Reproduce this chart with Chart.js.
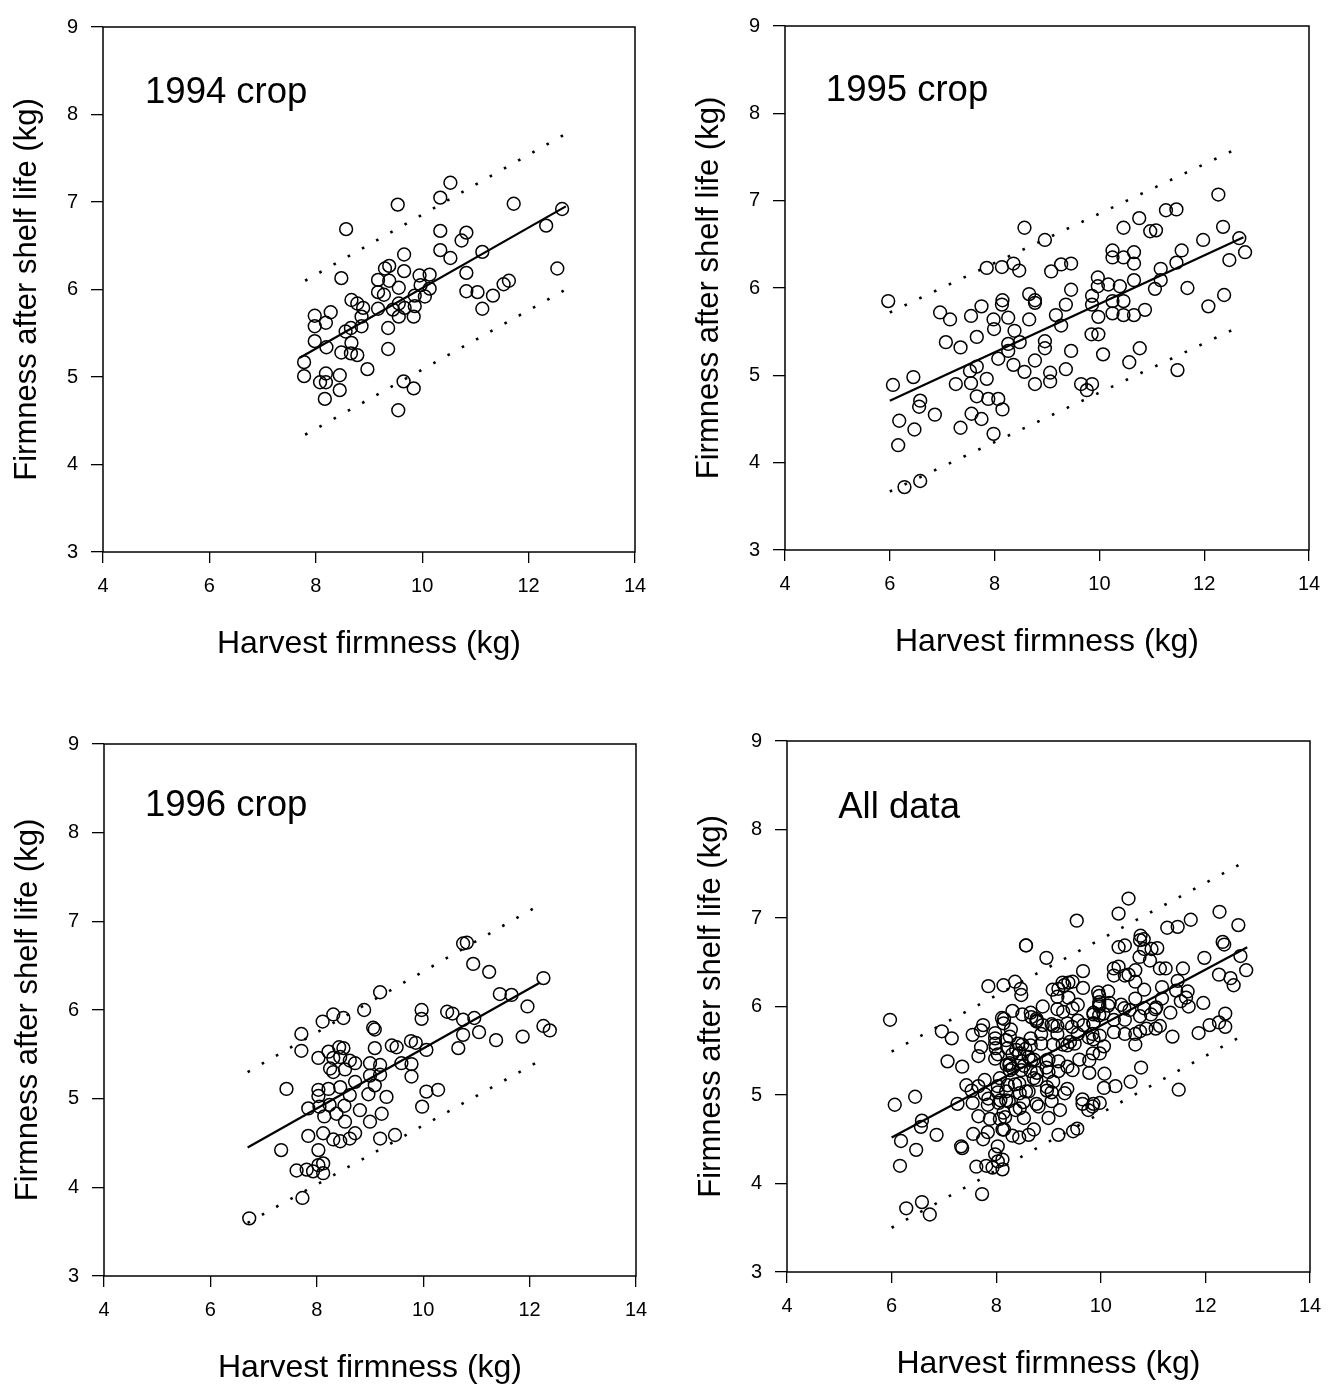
<!DOCTYPE html>
<html><head><meta charset="utf-8">
<script src="https://cdn.jsdelivr.net/npm/chart.js@4/dist/chart.umd.min.js"></script>
<style>
html,body{margin:0;padding:0;background:#fff;overflow:hidden;width:1339px;height:1387px;}
.panel{position:absolute;}
canvas{display:block;}
</style></head><body>
<div class="panel" id="p1"><canvas id="c1"></canvas></div>
<div class="panel" id="p2"><canvas id="c2"></canvas></div>
<div class="panel" id="p3"><canvas id="c3"></canvas></div>
<div class="panel" id="p4"><canvas id="c4"></canvas></div>
<script>
// ---------- DATA ----------
const xTickValues = [4, 6, 8, 10, 12, 14];
const yTickValues = [3, 4, 5, 6, 7, 8, 9];
const panelTitles = ['1994 crop', '1995 crop', '1996 crop', 'All data'];
const xAxisTitle = 'Harvest firmness (kg)';
const yAxisTitle = 'Firmness after shelf life (kg)';

// [harvest firmness, firmness after shelf life]
const crop1994 = [[9.54,6.97],[8.57,6.69],[9.66,6.40],[9.30,6.24],[9.38,6.27],[9.66,6.21],[8.48,6.13],[9.17,6.11],[9.38,6.10],[9.95,6.16],[10.14,6.17],[9.56,6.02],[9.97,6.05],[10.14,6.01],[9.17,5.97],[9.28,5.94],[9.86,5.93],[10.05,5.92],[8.67,5.88],[8.78,5.84],[9.56,5.84],[9.86,5.81],[9.17,5.78],[9.45,5.77],[9.67,5.79],[8.28,5.74],[7.98,5.70],[8.89,5.79],[8.86,5.69],[9.56,5.69],[9.84,5.69],[8.19,5.62],[7.98,5.58],[8.66,5.56],[8.86,5.58],[8.56,5.52],[9.36,5.56],[7.98,5.41],[8.20,5.34],[8.67,5.39],[8.48,5.28],[8.66,5.27],[8.78,5.25],[9.36,5.32],[7.78,5.17],[7.78,5.01],[8.97,5.09],[8.19,5.04],[8.45,5.02],[8.08,4.94],[8.19,4.94],[9.65,4.95],[9.84,4.87],[8.45,4.85],[8.17,4.75],[9.55,4.62],[10.53,7.22],[10.34,7.05],[11.72,6.98],[10.34,6.67],[10.83,6.65],[10.74,6.56],[12.63,6.92],[12.33,6.73],[10.34,6.45],[10.53,6.36],[11.13,6.43],[10.83,6.19],[12.54,6.24],[10.83,5.98],[11.04,5.97],[11.33,5.93],[11.53,6.06],[11.63,6.10],[11.13,5.78]];

const crop1995 = [[5.97,5.85],[7.85,6.23],[8.14,6.24],[6.96,5.72],[7.15,5.64],[7.75,5.79],[7.55,5.68],[8.14,5.81],[7.98,5.64],[7.99,5.53],[7.07,5.38],[7.35,5.32],[7.66,5.44],[8.07,5.19],[6.45,4.98],[6.06,4.89],[7.66,5.10],[7.53,5.05],[7.85,4.96],[7.26,4.90],[7.55,4.91],[7.66,4.76],[7.88,4.73],[8.07,4.73],[6.58,4.71],[6.56,4.64],[6.86,4.55],[7.56,4.56],[7.75,4.50],[6.18,4.48],[6.47,4.38],[7.35,4.40],[7.98,4.33],[6.16,4.20],[6.58,3.79],[6.28,3.72],[8.15,4.61],[8.57,6.69],[8.96,6.55],[10.46,6.69],[8.36,6.28],[8.47,6.20],[9.08,6.19],[9.27,6.27],[9.46,6.28],[10.25,6.43],[10.46,6.35],[10.25,6.35],[9.97,6.12],[9.97,6.02],[10.17,6.04],[10.39,6.02],[9.46,5.98],[8.66,5.93],[8.77,5.86],[8.77,5.83],[8.15,5.86],[9.36,5.81],[9.86,5.91],[9.86,5.81],[10.25,5.85],[10.46,5.85],[10.25,5.71],[10.46,5.69],[9.98,5.67],[9.17,5.69],[8.26,5.66],[8.66,5.64],[9.27,5.57],[8.38,5.51],[8.26,5.36],[8.48,5.38],[8.26,5.28],[8.96,5.39],[8.96,5.31],[9.85,5.47],[9.98,5.47],[9.46,5.28],[10.07,5.24],[8.36,5.12],[8.57,5.04],[8.77,5.17],[9.36,5.07],[8.77,4.90],[9.06,5.03],[9.06,4.93],[9.65,4.90],[9.86,4.90],[9.76,4.83],[12.27,7.07],[11.27,6.89],[11.47,6.90],[10.76,6.80],[10.97,6.65],[11.08,6.66],[12.36,6.70],[12.67,6.57],[12.78,6.41],[11.98,6.55],[11.57,6.43],[10.66,6.41],[12.48,6.32],[10.66,6.28],[11.47,6.29],[11.17,6.22],[11.17,6.09],[10.66,6.09],[11.06,5.99],[11.68,6.00],[12.38,5.92],[12.08,5.79],[10.66,5.69],[10.87,5.75],[10.77,5.31],[10.57,5.15],[11.49,5.06]];

const crop1996 = [[9.19,6.20],[8.89,6.00],[8.31,5.95],[8.50,5.91],[8.11,5.87],[9.06,5.80],[9.09,5.78],[7.71,5.73],[7.71,5.54],[9.41,5.60],[9.09,5.57],[8.42,5.58],[8.50,5.57],[8.22,5.53],[8.03,5.46],[8.31,5.46],[8.44,5.47],[8.62,5.43],[8.72,5.40],[9.00,5.40],[9.19,5.38],[8.25,5.34],[8.31,5.30],[8.53,5.33],[9.00,5.26],[9.19,5.27],[8.72,5.19],[9.09,5.15],[7.43,5.11],[8.03,5.10],[8.22,5.11],[8.44,5.13],[8.62,5.04],[8.97,5.05],[8.03,5.03],[9.31,5.02],[7.84,4.89],[8.05,4.91],[8.24,4.93],[8.52,4.92],[8.81,4.87],[8.14,4.80],[8.37,4.83],[8.53,4.74],[9.00,4.74],[9.22,4.83],[7.84,4.58],[8.12,4.61],[8.31,4.54],[8.44,4.52],[8.62,4.55],[8.72,4.61],[9.19,4.55],[9.47,4.59],[7.33,4.42],[8.03,4.42],[8.12,4.27],[8.03,4.25],[7.62,4.19],[7.81,4.20],[7.93,4.18],[8.12,4.16],[7.73,3.88],[6.73,3.65],[10.82,6.76],[10.75,6.75],[10.94,6.52],[11.24,6.43],[12.26,6.36],[11.44,6.18],[11.66,6.17],[11.96,6.04],[9.97,6.00],[9.97,5.90],[10.45,5.98],[10.55,5.96],[10.75,5.89],[10.96,5.91],[10.75,5.72],[11.05,5.75],[11.37,5.66],[11.87,5.70],[12.26,5.82],[12.38,5.77],[10.66,5.57],[9.77,5.65],[9.86,5.63],[9.50,5.58],[10.06,5.55],[9.59,5.40],[9.78,5.39],[9.78,5.25],[10.06,5.08],[10.28,5.10],[9.98,4.91]];

const cropAll = [...crop1994, ...crop1995, ...crop1996];

// regression line and prediction bounds (end points)
const fitX1994 = [7.7, 12.7],  fitY1994 = [5.22, 6.95];
const bandX1994 = [7.8, 12.7], upperY1994 = [6.10, 7.78], lowerY1994 = [4.34, 6.00];
const fitX1995 = [6.0, 12.75], fitY1995 = [4.71, 6.58];
const bandX1995 = [6.0, 12.75], upperY1995 = [5.72, 7.63], lowerY1995 = [3.67, 5.58];
const fitX1996 = [6.7, 12.2],  fitY1996 = [4.45, 6.31];
const bandX1996 = [6.7, 12.2], upperY1996 = [5.30, 7.19], lowerY1996 = [3.60, 5.43];
const fitXAll = [6.0, 12.8],   fitYAll = [4.52, 6.67];
const bandXAll = [6.0, 12.8],  upperYAll = [5.49, 7.65], lowerYAll = [3.50, 5.70];

// ---------- LAYOUT ----------
const FONT = "'Liberation Sans', Arial, Helvetica, sans-serif";
const Y_W = 103, PAD_T = 22, PAD_R = 28, X_H = 110;
const panels = [
  {id:'1', area:{l:103,t:24,r:635,b:552}, title:panelTitles[0], tpos:[4.79,8.25], pts:crop1994, fx:fitX1994, fy:fitY1994, bx:bandX1994, uy:upperY1994, ly:lowerY1994},
  {id:'2', area:{l:785,t:23,r:1309,b:550}, title:panelTitles[1], tpos:[4.78,8.26], pts:crop1995, fx:fitX1995, fy:fitY1995, bx:bandX1995, uy:upperY1995, ly:lowerY1995},
  {id:'3', area:{l:104,t:741,r:636,b:1276}, title:panelTitles[2], tpos:[4.77,8.30], pts:crop1996, fx:fitX1996, fy:fitY1996, bx:bandX1996, uy:upperY1996, ly:lowerY1996},
  {id:'4', area:{l:787,t:738,r:1310,b:1272}, title:panelTitles[3], tpos:[4.98,8.24], pts:cropAll, fx:fitXAll, fy:fitYAll, bx:bandXAll, uy:upperYAll, ly:lowerYAll}
];

const framePlugin = {
  id:'frame',
  afterDraw(chart){
    const {ctx, chartArea:a} = chart;
    ctx.save();
    ctx.strokeStyle = '#000'; ctx.lineWidth = 1.5;
    ctx.strokeRect(a.left, a.top, a.right - a.left, a.bottom - a.top);
    ctx.restore();
  }
};
const panelTitlePlugin = {
  id:'panelTitle',
  afterDraw(chart, args, opts){
    const {ctx, scales} = chart;
    ctx.save();
    ctx.font = '36.5px ' + FONT;
    ctx.fillStyle = '#000';
    ctx.textAlign = 'left'; ctx.textBaseline = 'middle';
    ctx.fillText(opts.text, scales.x.getPixelForValue(opts.x), scales.y.getPixelForValue(opts.y));
    ctx.restore();
  }
};

const pairs = (xs, ys) => xs.map((x, i) => ({x, y: ys[i]}));

panels.forEach(p => {
  const a = p.area;
  const div = document.getElementById('p' + p.id);
  const W = a.r - a.l + Y_W + PAD_R, H = a.b - a.t + PAD_T + X_H;
  div.style.left = (a.l - Y_W) + 'px';
  div.style.top = (a.t - PAD_T) + 'px';
  const cv = document.getElementById('c' + p.id);
  cv.width = W; cv.height = H;
  cv.style.width = W + 'px'; cv.style.height = H + 'px';
  new Chart(cv, {
    type:'scatter',
    data:{datasets:[
      {data:p.pts.map(d => ({x:d[0], y:d[1]})), showLine:false, pointStyle:'circle', pointRadius:6.4, pointBorderWidth:1.5, pointBorderColor:'#000', pointBackgroundColor:'rgba(0,0,0,0)'},
      {data:pairs(p.fx, p.fy), showLine:true, borderColor:'#000', borderWidth:2.2, pointRadius:0},
      {data:pairs(p.bx, p.uy), showLine:true, borderColor:'#000', borderWidth:2.6, borderDash:[2.6,13.7], pointRadius:0},
      {data:pairs(p.bx, p.ly), showLine:true, borderColor:'#000', borderWidth:2.6, borderDash:[2.6,13.7], pointRadius:0}
    ]},
    options:{
      responsive:false, animation:false, devicePixelRatio:1,
      layout:{padding:{top:PAD_T, right:PAD_R, left:0, bottom:0}},
      plugins:{legend:{display:false}, tooltip:{enabled:false},
        panelTitle:{text:p.title, x:p.tpos[0], y:p.tpos[1]}},
      scales:{
        x:{type:'linear', min:4, max:14,
          afterBuildTicks:s => { s.ticks = xTickValues.map(v => ({value:v})); },
          ticks:{font:{family:FONT, size:20}, color:'#000', padding:11, maxRotation:0},
          grid:{drawOnChartArea:false, drawTicks:true, tickLength:11, color:'#000', lineWidth:1.3},
          border:{display:false},
          title:{display:true, text:xAxisTitle, color:'#000', font:{family:FONT, size:32, lineHeight:1}, padding:{top:0, bottom:1.5}},
          afterFit:s => { s.height = X_H; }
        },
        y:{type:'linear', min:3, max:9,
          afterBuildTicks:s => { s.ticks = yTickValues.map(v => ({value:v})); },
          ticks:{font:{family:FONT, size:20}, color:'#000', padding:13},
          grid:{drawOnChartArea:false, drawTicks:true, tickLength:12, color:'#000', lineWidth:1.3},
          border:{display:false},
          title:{display:true, text:yAxisTitle, color:'#000', font:{family:FONT, size:31, lineHeight:1}, padding:{top:12, bottom:0}},
          afterFit:s => { s.width = Y_W; }
        }
      }
    },
    plugins:[framePlugin, panelTitlePlugin]
  });
});
</script>
</body></html>
